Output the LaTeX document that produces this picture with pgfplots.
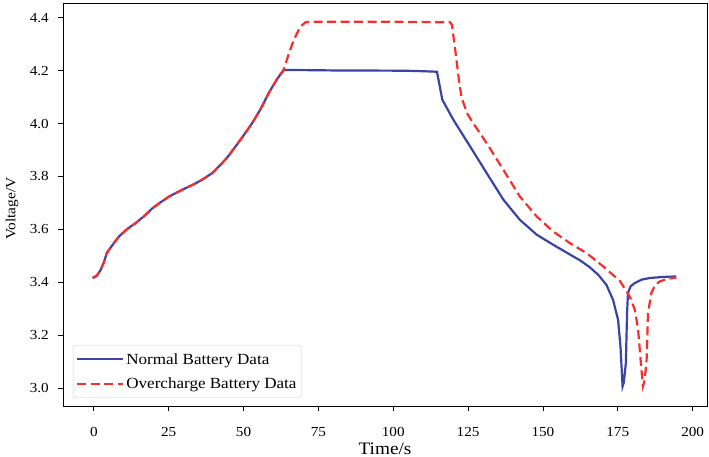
\documentclass[border=0pt]{standalone}
\usepackage{fontspec}
\setmainfont[FakeStretch=1.1]{Liberation Serif}
\usepackage{pgfplots}
\pgfplotsset{compat=1.18}
\definecolor{nblue}{RGB}{58,68,168}
\definecolor{ored}{RGB}{250,45,45}
\begin{document}
\begin{tikzpicture}
\begin{axis}[
  scale only axis, width=644pt, height=403pt,
  xmin=-10.3, xmax=204.8, ymin=2.932, ymax=4.456,
  xtick={0,25,50,75,100,125,150,175,200},
  ytick={3.0,3.2,3.4,3.6,3.8,4.0,4.2,4.4},
  /pgf/number format/assume math mode=true,
  yticklabel style={/pgf/number format/fixed, /pgf/number format/fixed zerofill, /pgf/number format/precision=1},
  tick pos=left, tick align=outside, major tick length=5pt,
  tick style={black, line width=0.8pt},
  axis line style={black, line width=0.8pt},
  ticklabel style={font=\fontsize{13.8}{15}\selectfont},
  xticklabel style={anchor=base, inner sep=0pt, yshift=-25pt},
  yticklabel style={anchor=east, inner sep=0pt, xshift=-9pt},
  xlabel={Time/s}, ylabel={Voltage/V},
  xlabel style={font=\fontsize{17.5}{20}\selectfont, at={(axis description cs:0.5,-0.12)}, anchor=base},
  ylabel style={font=\fontsize{14}{16}\selectfont, at={(axis description cs:-0.0792,0.49)}, anchor=center},
  legend style={at={(0.0155,0.0199)}, anchor=south west, draw=black!20, rounded corners=3pt,
    font=\fontsize{15.5}{18}\selectfont, inner xsep=3pt, inner ysep=6pt, row sep=8pt},
  legend cell align=left,
  legend image code/.code={\draw[#1] (0pt,0pt) -- (36pt,0pt); \path (0pt,0pt) -- (46pt,0pt);},
]
\addplot[nblue, line width=2.2pt] coordinates {
(-0.4,3.416) (1.0,3.425) (2.3,3.447) (3.5,3.48) (4.3,3.51) (5.1,3.523) (6.5,3.545)
(8.4,3.573) (11,3.600) (14.0,3.624) (17,3.652) (19.6,3.680) (22,3.700) (25.1,3.724)
(28,3.741) (30.7,3.756) (33.5,3.771) (36.2,3.788) (39.6,3.813) (42.9,3.851) (45,3.878)
(47.3,3.913) (50,3.955) (52.9,4.002) (55.7,4.055) (58.4,4.115) (61,4.165) (63.4,4.203)
(80,4.201) (103.3,4.200) (110,4.198) (114.6,4.196) (116.4,4.090) (120.1,4.014)
(125.7,3.913) (131.2,3.813) (136.8,3.712) (142.3,3.636) (147.9,3.580) (153.4,3.542)
(159,3.505) (162.5,3.482) (165.5,3.458) (168.5,3.428) (171.2,3.390) (173.4,3.334)
(175.1,3.258) (175.9,3.157) (176.3,3.070) (176.6,3.006) (177.0,3.020) (177.7,3.095)
(178.1,3.283) (178.4,3.359) (179.3,3.385) (180.7,3.397) (183,3.410) (185.7,3.416)
(190,3.420) (194.5,3.422)
};
\addlegendentry{Normal Battery Data}
\addplot[ored, line width=2.2pt, dash pattern=on 9pt off 4.5pt] coordinates {
(-0.4,3.416) (1.0,3.425) (2.3,3.447) (3.5,3.48) (4.3,3.51) (5.1,3.523) (6.5,3.545)
(8.4,3.573) (11,3.600) (14.0,3.624) (17,3.652) (19.6,3.680) (22,3.700) (25.1,3.724)
(28,3.741) (30.7,3.756) (33.5,3.771) (36.2,3.788) (39.6,3.813) (42.9,3.851) (45,3.878)
(47.3,3.913) (50,3.955) (52.9,4.002) (55.7,4.055) (58.4,4.115) (61,4.165) (63.4,4.203)
(65,4.260) (66.8,4.317) (69,4.367) (70.7,4.383) (72,4.385) (100,4.385) (119,4.383)
(119.6,4.374) (120.7,4.279) (122,4.160) (122.8,4.100) (124.6,4.040) (126.8,4.000)
(131.2,3.926) (136.8,3.825) (142.3,3.724) (147.9,3.649) (153.4,3.592) (159,3.548)
(164.6,3.510) (170.1,3.460) (175.7,3.405) (179,3.346) (180.7,3.296) (181.8,3.220)
(182.9,3.069) (183.4,3.006) (183.8,3.020) (184.6,3.095) (185.1,3.283) (186.2,3.359)
(187.5,3.390) (189,3.403) (192,3.414) (194.6,3.418)
};
\addlegendentry{Overcharge Battery Data}
\end{axis}
\pgfresetboundingbox
\path ([shift={(-63pt,-51pt)}]current axis.south west) rectangle ([shift={(2pt,3pt)}]current axis.north east);
\end{tikzpicture}
\end{document}
